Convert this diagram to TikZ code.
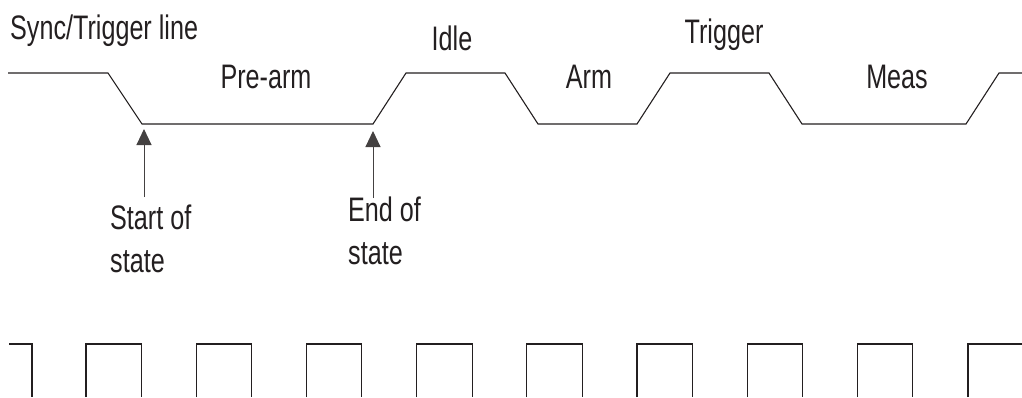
\documentclass[tikz,border=0pt]{standalone}
\usepackage{fontspec}
\setmainfont[FakeStretch=0.74]{Liberation Sans}
\usetikzlibrary{arrows.meta}
\definecolor{ink}{HTML}{231F20}
\begin{document}
\begin{tikzpicture}[x=1pt,y=-1pt,
  wave/.style={draw=ink,line width=1.1pt,line join=miter},
  lbl/.style={inner sep=0pt,text=ink,font=\fontsize{34}{43}\selectfont},
  pointer/.style={draw=ink!85,line width=1pt,-{Triangle[width=15pt,length=16pt]}}]
\useasboundingbox (0,0) rectangle (1022,397);
% top waveform
\draw[wave] (8,73) -- (108,73) -- (142,124) -- (373,124) -- (406,73) -- (505,73)
  -- (538,124) -- (637,124) -- (670,73) -- (769,73) -- (802,124) -- (966,124)
  -- (999,73) -- (1022,73);
% labels
\node[lbl,anchor=base west] (sync) at (10,39) {Sync/Trigger line};
\node[lbl,anchor=base] (idle) at (452,50) {Idle};
\node[lbl,anchor=base] (prearm) at (266,88) {Pre-arm};
\node[lbl,anchor=base] (arm) at (589,88) {Arm};
\node[lbl,anchor=base] (trig) at (724,43) {Trigger};
\node[lbl,anchor=base] (meas) at (897,88) {Meas};
\node[lbl,anchor=base west,align=left] (start) at (110,272) {Start of\\state};
\node[lbl,anchor=base west,align=left] (end) at (348,264) {End of\\state};
% pointers
\coordinate (s0) at (144,197);
\coordinate (s1) at (144,129);
\coordinate (e0) at (373,198);
\coordinate (e1) at (373,131);
\draw[pointer] (s0) -- (s1);
\draw[pointer] (e0) -- (e1);
% bottom clock
\draw[wave] (9,344) -- (32,344) -- (32,397);
\foreach \x in {86,196.2,306.4,416.6,526.8,637,747.2,857.4}{
  \draw[wave] (\x,397) -- (\x,344) -- (\x+55.5,344) -- (\x+55.5,397);
}
\draw[wave] (968,397) -- (968,344) -- (1022,344);
\end{tikzpicture}
\end{document}
